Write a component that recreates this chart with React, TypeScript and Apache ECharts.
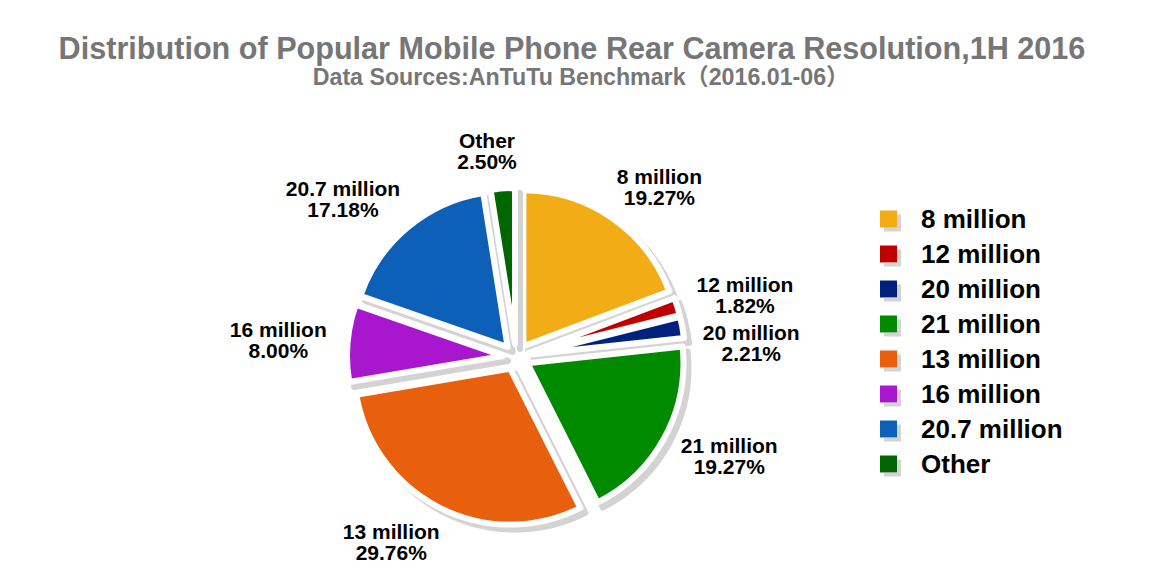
import React, { useEffect, useRef } from "react";
import * as echarts from "echarts";

const categories = [
  "8 million",
  "12 million",
  "20 million",
  "21 million",
  "13 million",
  "16 million",
  "20.7 million",
  "Other",
];
const shares = [19.27, 1.82, 2.21, 19.27, 29.76, 8.0, 17.18, 2.5];
const colors = [
  "#F2AD12",
  "#C00000",
  "#00237D",
  "#008A00",
  "#E85E10",
  "#A814CD",
  "#1160B7",
  "#006600",
];
const titleText = "Distribution of Popular Mobile Phone Rear Camera Resolution,1H 2016";
const subtitleText = "Data Sources:AnTuTu Benchmark（2016.01-06）";

const FONT = "'Liberation Sans', Arial, 'Noto Sans CJK SC', sans-serif";
const CENTER: [number, number] = [516, 357];
const RADIUS = 156;
const LABEL_R = 207; // distance of label anchors from the pie centre
const LABEL_PULL = 17; // labels sit slightly inward of their outward edge
const LABEL_MIN_GAP = 48; // minimal vertical spacing between labels on one side

export default function App() {
  const ref = useRef<HTMLDivElement>(null);
  useEffect(() => {
    if (!ref.current) return;
    const chart = echarts.init(ref.current, null, { renderer: "svg" });
    const total = shares.reduce((a, b) => a + b, 0);
    const mids: number[] = [];
    let cum = 0;
    shares.forEach((v) => {
      mids.push(((cum + v / 2) / total) * Math.PI * 2);
      cum += v;
    });
    const dxs = mids.map((a) => Math.sin(a));
    const dys = mids.map((a) => -Math.cos(a));
    const ys = dys.map((dy) => CENTER[1] + LABEL_R * dy);
    // simple overlap avoidance per side: push labels downward
    [true, false].forEach((right) => {
      const idx = dxs
        .map((dx, i) => ({ dx, i }))
        .filter((o) => (o.dx >= 0) === right)
        .map((o) => o.i)
        .sort((a, b) => ys[a] - ys[b]);
      for (let k = 1; k < idx.length; k++) {
        const prev = ys[idx[k - 1]];
        if (ys[idx[k]] - prev < LABEL_MIN_GAP) ys[idx[k]] = prev + LABEL_MIN_GAP;
      }
    });

    chart.setOption({
      animation: false,
      title: [
        {
          text: titleText,
          left: 567,
          textAlign: "center",
          top: 28,
          textStyle: { fontFamily: FONT, fontSize: 30.6, fontWeight: "bold", color: "#767676" },
        },
        {
          text: subtitleText,
          left: 576,
          textAlign: "center",
          top: 60,
          textStyle: { fontFamily: FONT, fontSize: 23.2, fontWeight: "bold", color: "#767676" },
        },
      ],
      legend: {
        orient: "vertical",
        left: 875,
        top: 201,
        itemWidth: 17,
        itemHeight: 17,
        itemGap: 9,
        icon: "rect",
        data: categories,
        selectedMode: false,
        itemStyle: {
          borderWidth: 0,
          shadowColor: "#d3d3d3",
          shadowOffsetX: 4,
          shadowOffsetY: 4,
          shadowBlur: 0,
        },
        textStyle: {
          fontFamily: FONT,
          fontSize: 26,
          fontWeight: "bold",
          color: "#000",
          padding: [0, 0, 0, 19],
        },
      },
      series: [
        {
          type: "pie",
          center: CENTER,
          radius: RADIUS,
          startAngle: 90,
          clockwise: true,
          selectedMode: "multiple",
          selectedOffset: 13,
          emphasis: { disabled: true },
          itemStyle: {
            borderColor: "#fff",
            borderWidth: 6,
            shadowColor: "#d3d3d3",
            shadowOffsetX: 5,
            shadowOffsetY: 5,
            shadowBlur: 0,
          },
          label: { show: false },
          labelLine: { show: false },
          data: categories.map((name, i) => ({
            name,
            value: shares[i],
            selected: true,
            itemStyle: { color: colors[i] },
          })),
        },
        {
          type: "pie",
          center: CENTER,
          radius: RADIUS,
          startAngle: 90,
          clockwise: true,
          silent: true,
          selectedMode: false,
          avoidLabelOverlap: false,
          emphasis: { disabled: true },
          itemStyle: { color: "rgba(0,0,0,0)", borderWidth: 0 },
          label: {
            show: true,
            position: "outside",
            fontFamily: FONT,
            fontSize: 21,
            fontWeight: "bold",
            color: "#000",
            lineHeight: 21,
            align: "center",
            formatter: (p: any) => `${p.name}\n${shares[p.dataIndex].toFixed(2)}%`,
          },
          labelLine: { show: false },
          labelLayout: (p: any) => {
            const i = p.dataIndex;
            const w = p.labelRect ? p.labelRect.width : 90;
            const side = dxs[i] >= 0 ? 1 : -1;
            return {
              x: CENTER[0] + LABEL_R * dxs[i] + side * (w / 2 - LABEL_PULL),
              y: ys[i],
              align: "center",
              verticalAlign: "middle",
            };
          },
          data: categories.map((name, i) => ({ name, value: shares[i] })),
        },
      ],
    });
    return () => chart.dispose();
  }, []);
  return (
    <div
      ref={ref}
      style={{ position: "absolute", left: 0, top: 0, width: 1149, height: 568, background: "#fff" }}
    />
  );
}
